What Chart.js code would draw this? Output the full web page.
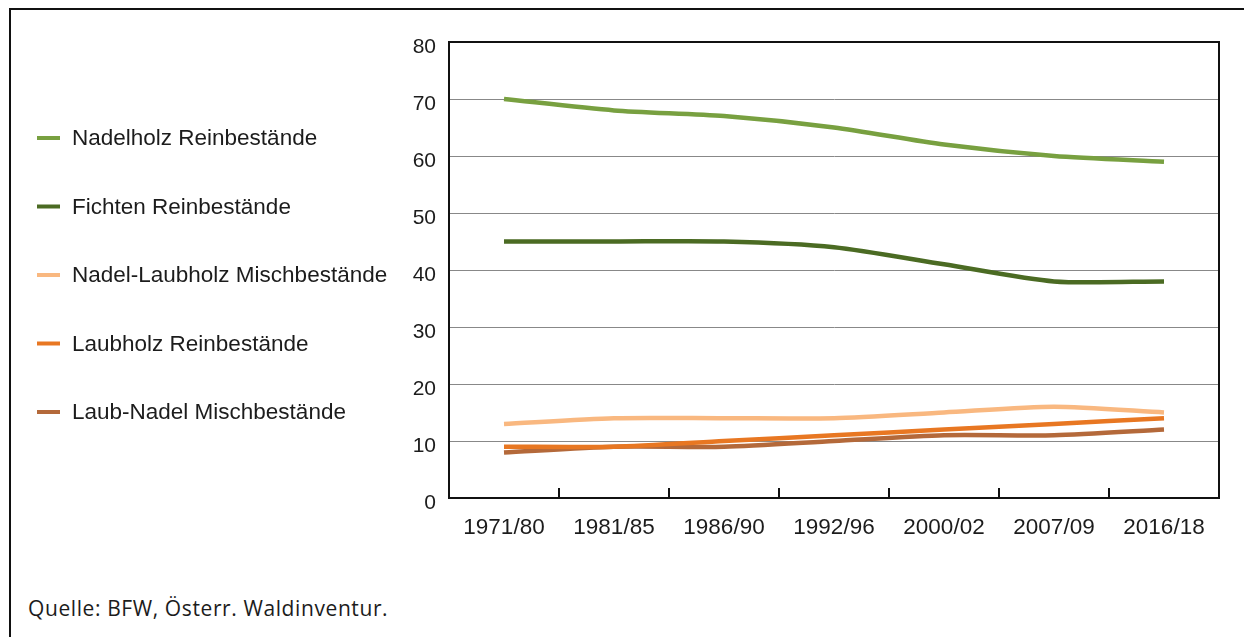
<!DOCTYPE html>
<html>
<head>
<meta charset="utf-8">
<script src="https://cdn.jsdelivr.net/npm/chart.js@4/dist/chart.umd.min.js"></script>
<style>
  body { margin: 0; background: #fff; }
  #frame { position: absolute; left: 9px; top: 8px; width: 1240px; height: 640px; border-left: 2px solid #111; border-top: 2px solid #111; }
  #wrap { position: absolute; left: 0; top: 0; width: 1244px; height: 560px; }
  #source { position: absolute; left: 28px; top: 594px; font: 21px 'Open Sans', sans-serif; letter-spacing: 0.6px; color: #1c1c1c; }
</style>
</head>
<body>
<div id="frame"></div>
<div id="wrap"><canvas id="chart"></canvas></div>
<div id="source">Quelle: BFW, Österr. Waldinventur.</div>
<script>
const categories = ['1971/80', '1981/85', '1986/90', '1992/96', '2000/02', '2007/09', '2016/18'];
const nadelholzRein = [70, 68, 67, 65, 62, 60, 59];
const fichtenRein = [45, 45, 45, 44, 41, 38, 38];
const nadelLaubMisch = [13, 14, 14, 14, 15, 16, 15];
const laubholzRein = [9, 9, 10, 11, 12, 13, 14];
const laubNadelMisch = [8, 9, 9, 10, 11, 11, 12];

const FONT = "'Liberation Sans', Arial, sans-serif";

function line(label, data, color) {
  return {
    label: label,
    data: data,
    borderColor: color,
    backgroundColor: color,
    borderWidth: 4.5,
    pointRadius: 0,
    tension: 0.25,
    fill: false,
  };
}

// left legend, plot box and the short inner tick marks
const extras = {
  id: 'extras',
  afterDraw(chart) {
    const ctx = chart.ctx;
    const area = chart.chartArea;
    const x = chart.scales.x;
    ctx.save();
    ctx.strokeStyle = '#111';
    ctx.lineWidth = 2;
    ctx.beginPath();
    ctx.moveTo(area.left, area.top);
    ctx.lineTo(area.right, area.top);
    ctx.lineTo(area.right, area.bottom);
    for (let i = 1; i < categories.length; i++) {
      const px = (x.getPixelForTick(i - 1) + x.getPixelForTick(i)) / 2;
      ctx.moveTo(px, area.bottom);
      ctx.lineTo(px, area.bottom - 10);
    }
    ctx.stroke();

    ctx.font = '22.5px ' + FONT;
    ctx.textBaseline = 'middle';
    ctx.fillStyle = '#1c1c1c';
    chart.data.datasets.forEach((ds, i) => {
      const y = 138 + i * 68.5;
      ctx.strokeStyle = ds.borderColor;
      ctx.lineWidth = 4;
      ctx.beginPath();
      ctx.moveTo(37, y);
      ctx.lineTo(60, y);
      ctx.stroke();
      ctx.fillText(ds.label, 72, y + 1);
    });
    ctx.restore();
  },
};

new Chart(document.getElementById('chart'), {
  type: 'line',
  data: {
    labels: categories,
    datasets: [
      line('Nadelholz Reinbestände', nadelholzRein, '#78a040'),
      line('Fichten Reinbestände', fichtenRein, '#4b6b23'),
      line('Nadel-Laubholz Mischbestände', nadelLaubMisch, '#f9b880'),
      line('Laubholz Reinbestände', laubholzRein, '#e87722'),
      line('Laub-Nadel Mischbestände', laubNadelMisch, '#b4693a'),
    ],
  },
  options: {
    responsive: true,
    maintainAspectRatio: false,
    animation: false,
    layout: { padding: { left: 400, top: 42, right: 25, bottom: 12 } },
    plugins: { legend: { display: false }, tooltip: { enabled: false } },
    scales: {
      x: {
        offset: true,
        grid: { display: false, offset: true },
        border: { display: true, color: '#111', width: 2 },
        ticks: { color: '#1c1c1c', font: { size: 22.5, family: FONT }, padding: 8, maxRotation: 0 },
        afterFit(scale) { scale.height = 50; },
      },
      y: {
        min: 0,
        max: 80,
        ticks: { stepSize: 10, color: '#1c1c1c', font: { size: 21, family: FONT }, padding: 13, labelOffset: 5 },
        grid: { color: '#888', lineWidth: 1, drawTicks: false },
        border: { display: true, color: '#111', width: 2 },
        afterFit(scale) { scale.width = 49; },
      },
    },
  },
  plugins: [extras],
});
</script>
</body>
</html>
